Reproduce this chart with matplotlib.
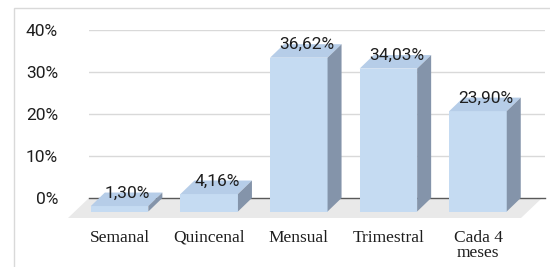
import matplotlib
matplotlib.use("Agg")
import matplotlib.pyplot as plt
from matplotlib.patches import Polygon, Rectangle

categories = ["Semanal", "Quincenal", "Mensual", "Trimestral", "Cada 4\nmeses"]
values = [1.30, 4.16, 36.62, 34.03, 23.90]
value_labels = ["1,30%", "4,16%", "36,62%", "34,03%", "23,90%"]
yticks = [0, 10, 20, 30, 40]
ytick_labels = ["0%", "10%", "20%", "30%", "40%"]

W, H = 550, 267
fig = plt.figure(figsize=(W / 100, H / 100), dpi=100)
fig.patch.set_facecolor("white")

# chart border
fig.patches.append(Rectangle((14 / W, -0.1), 1.2, (H - 8) / H + 0.1,
                             transform=fig.transFigure, fill=False,
                             edgecolor="#d9d9d9", linewidth=1.0))

L, R, T, B = 89, 545, 30, 198
ax = fig.add_axes([L / W, (H - B) / H, (R - L) / W, (B - T) / H])
ax.set_facecolor("none")
step = 89.6
x0 = 119.6
ax.set_xlim((L - x0) / step, (R - x0) / step)
ax.set_ylim(0, 40)
for s in ax.spines.values():
    s.set_visible(False)

pxu = 1 / step          # data x per pixel
pyu = 40 / (B - T)      # data y per pixel

# gridlines on the back wall
for t in yticks[1:]:
    ax.axhline(t, color="#d9d9d9", lw=1.0, zorder=0)

# floor
fl_back_l, fl_back_r = (L - x0) / step, (542 - x0) / step
fdx, fdy = 21 * pxu, 20 * pyu
floor = Polygon([(fl_back_l, 0), (fl_back_r, 0), (fl_back_r - fdx, -fdy),
                 (fl_back_l - fdx, -fdy)], closed=True, facecolor="#e9e9e9",
                edgecolor="none", clip_on=False, zorder=0.5)
ax.add_patch(floor)
ax.plot([fl_back_l, (R - x0) / step], [0, 0], color="#595959", lw=1.0,
        clip_on=False, zorder=0.8)

# 3D-looking bars
w = 57.5 / step
ddx = 14 * pxu
ddy = 13.5 * pyu
xs = list(range(len(categories)))
ax.bar(xs, values, width=w, bottom=-ddy, color="#c5dbf2", edgecolor="none",
       clip_on=False, zorder=3)
for x, v in zip(xs, values):
    top = Polygon([(x - w / 2, v - ddy), (x + w / 2, v - ddy),
                   (x + w / 2 + ddx, v), (x - w / 2 + ddx, v)],
                  closed=True, facecolor="#b6cde8", edgecolor="none",
                  clip_on=False, zorder=3)
    side = Polygon([(x + w / 2, -ddy), (x + w / 2 + ddx, 0),
                    (x + w / 2 + ddx, v), (x + w / 2, v - ddy)],
                   closed=True, facecolor="#8494aa", edgecolor="none",
                   clip_on=False, zorder=3)
    ax.add_patch(top)
    ax.add_patch(side)

# value labels
for x, v, lab in zip(xs, values, value_labels):
    ax.text(x + 8 * pxu, v - ddy + 13 * pyu, lab, ha="center", va="center",
            fontsize=12.5, family="Roboto", color="#1e1e1e", zorder=5)

# y tick labels
ax.set_yticks(yticks)
ax.set_yticklabels(ytick_labels, family="Roboto", fontsize=12.5, color="#1e1e1e")
ax.tick_params(axis="y", length=0, pad=22.3)

# x tick labels
ax.set_xticks(xs)
ax.set_xticklabels(categories, family="Liberation Serif", fontsize=12.5,
                   color="#1e1e1e", linespacing=0.95)
ax.tick_params(axis="x", length=0, pad=23)

fig.savefig("out.png", dpi=100)
